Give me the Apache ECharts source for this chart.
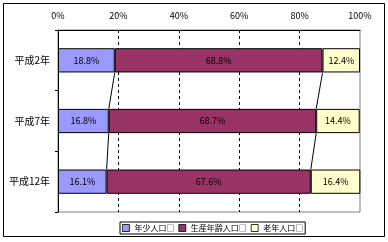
<!DOCTYPE html>
<html><head><meta charset="utf-8">
<script src="https://cdn.jsdelivr.net/npm/echarts@6/dist/echarts.min.js"></script>
<style>html,body{margin:0;padding:0;background:#fff}#c{width:388px;height:242px}</style>
</head><body><div id="c"></div>
<script>
const categories = ['平成2年', '平成7年', '平成12年'];
const seriesNames = ['年少人口□', '生産年齢人口□', '老年人口□'];
const young = [18.8, 16.8, 16.1];
const working = [68.8, 68.7, 67.6];
const elderly = [12.4, 14.4, 16.4];
const xTicks = [0, 20, 40, 60, 80, 100];

const FONT = '"Noto Sans CJK JP", "Noto Sans", sans-serif';
const colors = ['#9999FF', '#993366', '#FFFFCC'];

// series lines between stacked bars
const linesData = [];
for (let i = 0; i < categories.length - 1; i++) {
  linesData.push([young[i], i, young[i + 1]]);
  linesData.push([young[i] + working[i], i, young[i + 1] + working[i + 1]]);
}

const chart = echarts.init(document.getElementById('c'), null, {renderer: 'canvas'});
function barSeries(name, data, color) {
  return {
    name: name, type: 'bar', stack: 'total', data: data, barWidth: '40%',
    itemStyle: {color: color, borderColor: '#000', borderWidth: 1},
    label: {show: true, position: 'inside', color: '#000', fontSize: 9, fontFamily: FONT,
      textBorderWidth: 0, formatter: p => p.value.toFixed(1) + '%'},
    emphasis: {disabled: true}, animation: false
  };
}
chart.setOption({
  animation: false,
  backgroundColor: '#fff',
  textStyle: {fontFamily: FONT},
  graphic: [{type: 'rect', shape: {x: 3.5, y: 3.5, width: 381, height: 233}, style: {fill: null, stroke: '#000', lineWidth: 1}, silent: true, z: 100}],
  grid: {left: 58, right: 28, top: 30, bottom: 30, show: true, borderColor: '#808080', borderWidth: 1, backgroundColor: '#fff'},
  legend: {
    data: seriesNames, left: 120, top: 222, orient: 'horizontal',
    itemWidth: 7, itemHeight: 7, itemGap: 4, padding: [1, 2, 1, 2],
    borderColor: '#000', borderWidth: 1, backgroundColor: '#fff',
    itemStyle: {borderColor: '#000', borderWidth: 0.8},
    textStyle: {fontSize: 8, fontFamily: FONT, color: '#000', lineHeight: 10},
    icon: 'rect', selectedMode: false
  },
  xAxis: {
    type: 'value', position: 'top', min: xTicks[0], max: xTicks[xTicks.length - 1], interval: 20,
    axisLine: {show: true, lineStyle: {color: '#000', width: 1}},
    axisTick: {show: false},
    axisLabel: {formatter: '{value}%', fontSize: 9, color: '#000', margin: 10, fontFamily: FONT},
    splitLine: {show: true, showMinLine: false, showMaxLine: false, lineStyle: {color: '#000', type: [3, 3], width: 1}}
  },
  yAxis: {
    type: 'category', inverse: true, data: categories,
    axisLine: {show: true, lineStyle: {color: '#000', width: 1}},
    axisTick: {show: true, length: 3, alignWithLabel: false, lineStyle: {color: '#000'}},
    axisLabel: {fontSize: 10, color: '#000', margin: 8, fontFamily: FONT},
    splitLine: {show: false}
  },
  series: [
    barSeries(seriesNames[0], young, colors[0]),
    barSeries(seriesNames[1], working, colors[1]),
    barSeries(seriesNames[2], elderly, colors[2]),
    {
      type: 'custom', name: 'seriesLines', silent: true, data: linesData,
      encode: {x: 0, y: 1}, z: 5,
      renderItem: function (params, api) {
        const i = api.value(1);
        const p1 = api.coord([api.value(0), i]);
        const p2 = api.coord([api.value(2), i + 1]);
        const band = api.size([0, 1])[1];
        const half = band * 0.4 / 2;
        return {type: 'line', shape: {x1: p1[0], y1: p1[1] + half, x2: p2[0], y2: p2[1] - half},
          style: {stroke: '#000', lineWidth: 1}};
      }
    }
  ]
});
</script></body></html>
